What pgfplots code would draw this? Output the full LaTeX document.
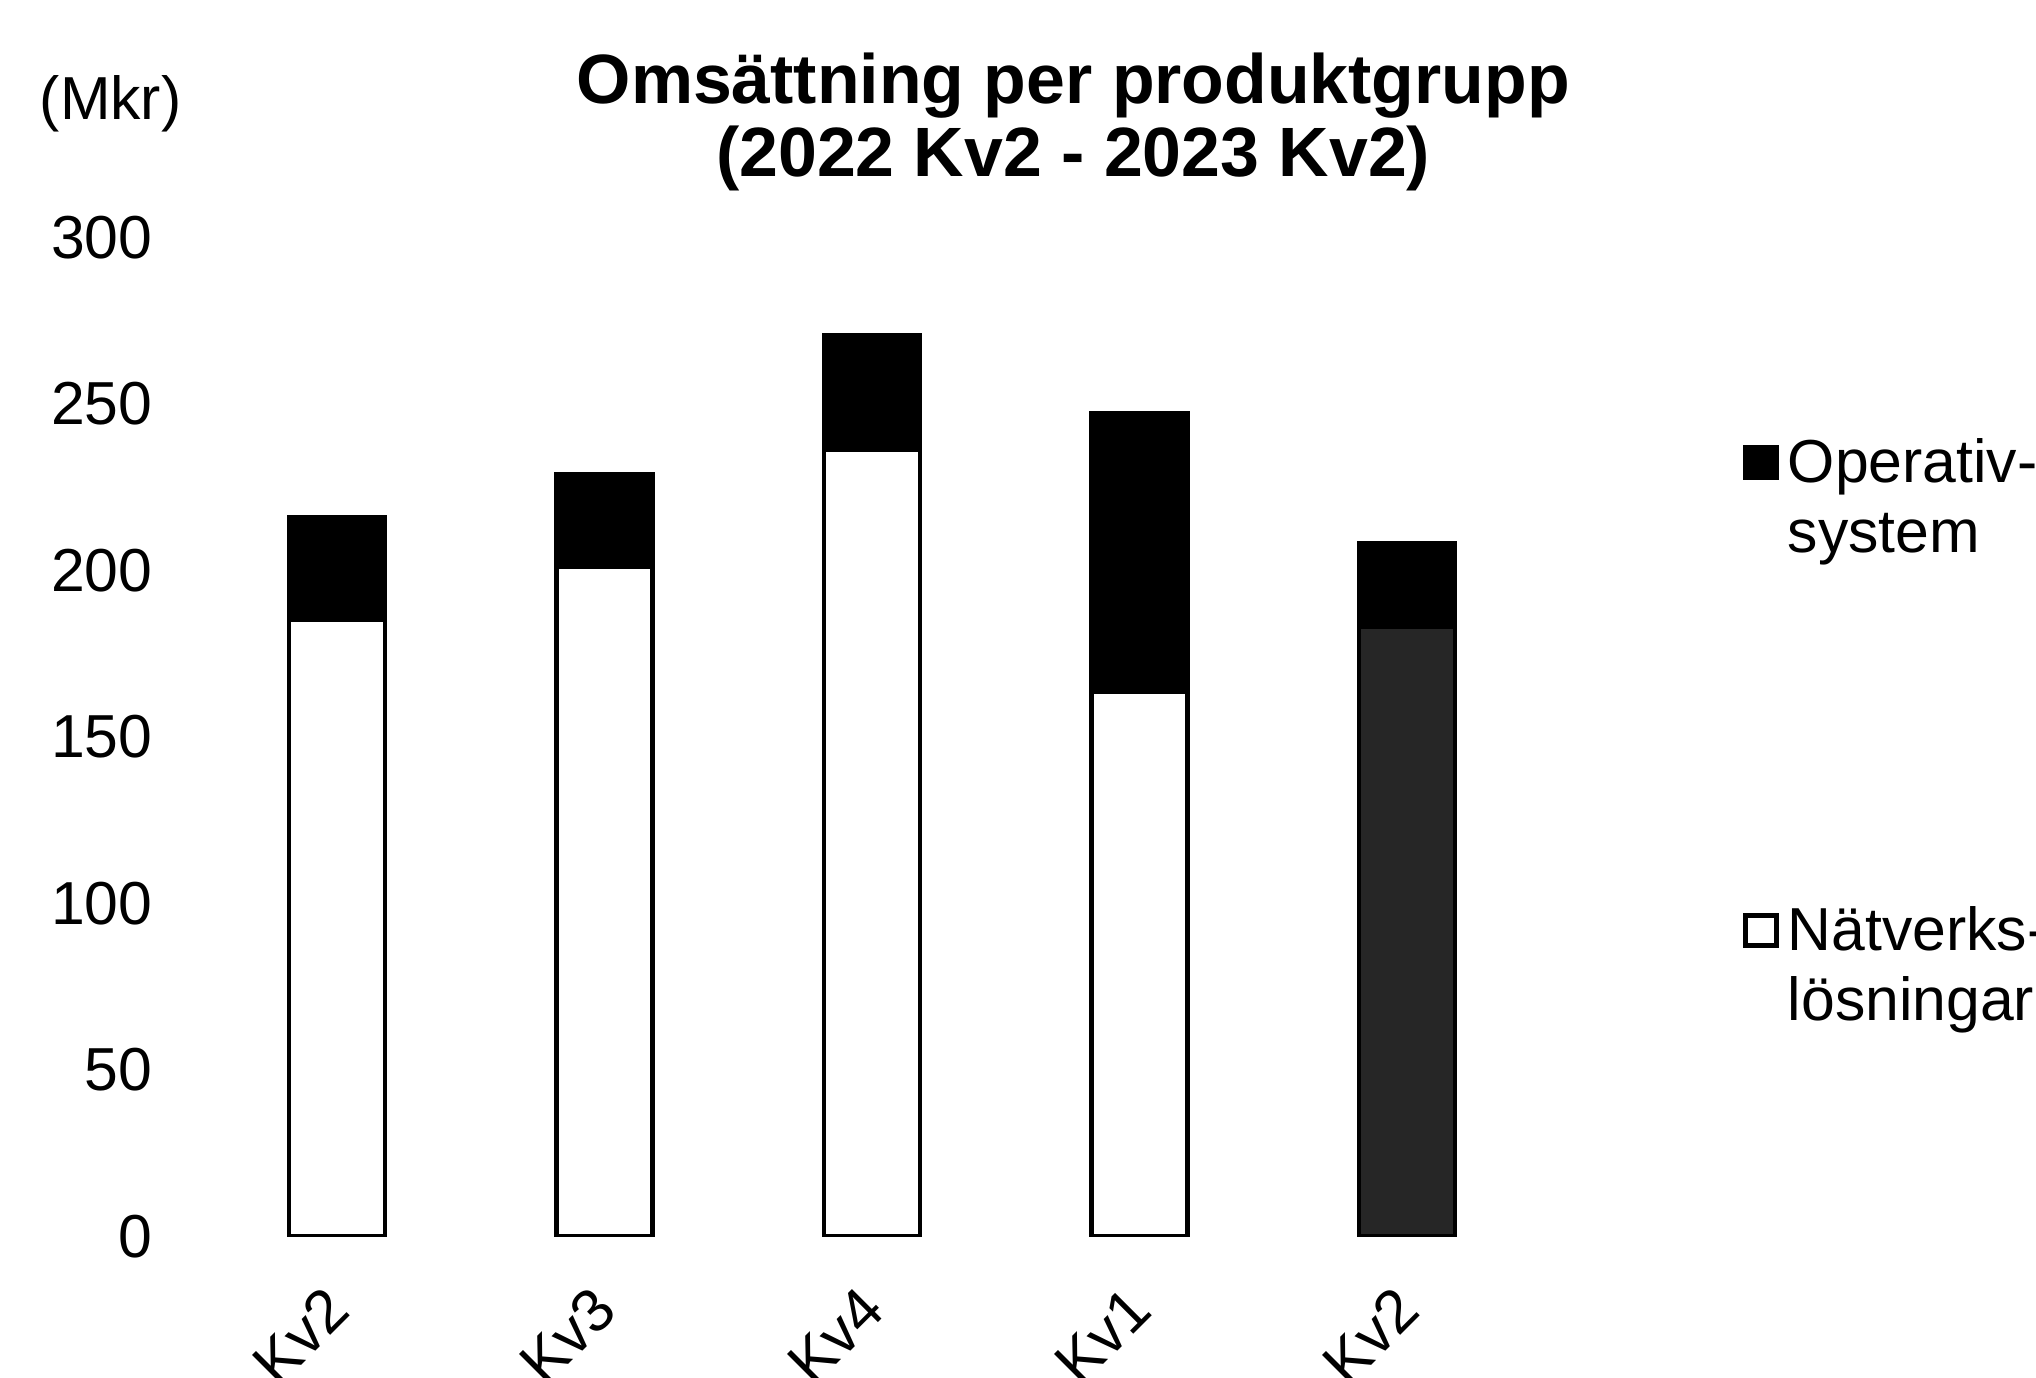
\documentclass[border=0pt]{standalone}
\usepackage{fontspec}
\setmainfont{Liberation Sans}
\usepackage{pgfplots}
\pgfplotsset{compat=1.18}

\newcommand{\tickfont}{\fontsize{13.3}{15.4}\selectfont}

\begin{document}
\begin{tikzpicture}
	\clip (0,0) rectangle (15.68,10.605);
	\useasboundingbox (0,0) rectangle (15.68,10.605);

	% title and unit
	\node[anchor=base, inner sep=0pt, font=\bfseries\fontsize{15.3}{17}\selectfont] at (8.265,9.805) {Omsättning per produktgrupp};
	\node[anchor=base, inner sep=0pt, font=\bfseries\fontsize{15.3}{17}\selectfont] at (8.265,9.245) {(2022 Kv2 - 2023 Kv2)};
	\node[anchor=base west, inner sep=0pt, font=\tickfont] at (0.30,9.685) {(Mkr)};

	\begin{axis}[
	  at={(1.565cm,1.085cm)}, anchor=south west,
	  scale only axis, width=10.30cm, height=7.69cm,
	  xmin=-0.5, xmax=4.5, ymin=0, ymax=300,
	  ybar stacked, bar width=0.74cm, bar shift=0pt,
	  axis line style={draw=none}, major tick length=0pt,
	  xtick={0,...,4}, xticklabels={Kv2,Kv3,Kv4,Kv1,Kv2},
	  ytick={0,50,...,300},
	  /pgf/number format/assume math mode=true,
	  yticklabel style={font=\tickfont, anchor=east, inner sep=0pt, xshift=-0.385cm},
	  xticklabel style={font=\tickfont, inner sep=0pt, xshift=0.01cm, yshift=-0.48cm, rotate=45, anchor=east},
	  reverse legend,
	  % square sits beside the first of the two text lines
	  legend image code/.code={\draw[#1, line width=1pt] (0cm,0.58cm) rectangle (0.24cm,0.81cm);},
	  legend style={at={(1.1506,0.8088)}, anchor=north west, draw=none, fill=none,
	    inner sep=0pt, row sep=2.53cm, font=\tickfont,
	    cells={anchor=base west, align=left, inner sep=0pt},
	    /tikz/every even column/.append style={column sep=0.11cm}},
	]
		\addplot[fill=white, draw=black, line width=1pt]
		  coordinates {(0,185.1) (1,201.1) (2,236.2) (3,163.6) (4,0)};
		\addlegendentry{Nätverks-\\lösningar}
		\addplot[fill=black!85, draw=black, line width=1pt, forget plot]
		  coordinates {(0,0) (1,0) (2,0) (3,0) (4,183.0)};
		\addplot[fill=black, draw=black, line width=1pt]
		  coordinates {(0,31.0) (1,27.9) (2,34.5) (3,83.6) (4,25.3)};
		\addlegendentry{Operativ-\\system}
	\end{axis}
\end{tikzpicture}
\end{document}
